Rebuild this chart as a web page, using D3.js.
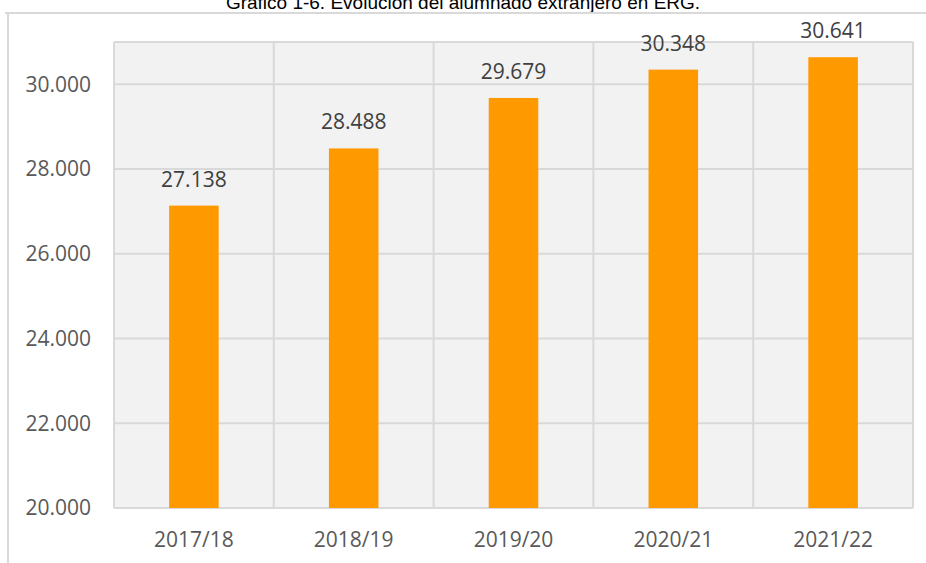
<!DOCTYPE html>
<html>
<head>
<meta charset="utf-8">
<script src="https://cdn.jsdelivr.net/npm/d3@7"></script>
<style>
  body { margin: 0; background: #fff; }
  svg { display: block; }
</style>
</head>
<body>
<script>
// data
var years = ["2017/18", "2018/19", "2019/20", "2020/21", "2021/22"];
var alumnos = [27138, 28488, 29679, 30348, 30641];
var yTicks = [20000, 22000, 24000, 26000, 28000, 30000];

var W = 926, H = 563;
var margin = { top: 42, right: 13, bottom: 55, left: 114 },
    width = W - margin.left - margin.right,
    height = H - margin.top - margin.bottom;

var es = d3.formatLocale({ decimal: ",", thousands: ".", grouping: [3], currency: ["", " €"] });
var fmt = es.format(",d");

var svg = d3.select("body").append("svg")
  .attr("width", W)
  .attr("height", H);

// title (sits at the very top, partly cut like the original)
svg.append("text")
  .attr("x", 463)
  .attr("y", 9)
  .attr("text-anchor", "middle")
  .style("font-family", "Liberation Sans, Arial, sans-serif")
  .style("font-size", "19px")
  .style("fill", "#000")
  .text("Gráfico 1-6. Evolución del alumnado extranjero en ERG.");

// outer frame
svg.append("line").attr("x1", 5).attr("x2", W).attr("y1", 13).attr("y2", 13)
  .style("stroke", "#d9d9d9").style("stroke-width", 2);
svg.append("line").attr("x1", 8).attr("x2", 8).attr("y1", 13).attr("y2", H)
  .style("stroke", "#d9d9d9").style("stroke-width", 2);

var g = svg.append("g")
  .attr("transform", "translate(" + margin.left + "," + margin.top + ")");

var x = d3.scaleBand().domain(years).range([0, width]).paddingInner(0).paddingOuter(0);
var y = d3.scaleLinear().domain([20000, 31000]).range([height, 0]);

// plot background
g.append("rect")
  .attr("width", width)
  .attr("height", height)
  .style("fill", "#f2f2f2");

// horizontal grid
g.selectAll(".hgrid")
  .data(yTicks.concat([31000]))
  .enter().append("line")
  .attr("x1", 0).attr("x2", width)
  .attr("y1", function (d) { return y(d); })
  .attr("y2", function (d) { return y(d); })
  .style("stroke", "#d9d9d9").style("stroke-width", 2);

// vertical grid
var vx = years.map(function (d) { return x(d); }).concat([width]);
g.selectAll(".vgrid")
  .data(vx)
  .enter().append("line")
  .attr("x1", function (d) { return d; }).attr("x2", function (d) { return d; })
  .attr("y1", 0).attr("y2", height)
  .style("stroke", "#d9d9d9").style("stroke-width", 2);

// bars
var bw = x.bandwidth() * 0.31;
g.selectAll(".bar")
  .data(alumnos)
  .enter().append("rect")
  .attr("x", function (d, i) { return x(years[i]) + x.bandwidth() / 2 - bw / 2; })
  .attr("y", function (d) { return y(d); })
  .attr("width", bw)
  .attr("height", function (d) { return height - y(d); })
  .style("fill", "#ff9900");

// value labels
g.selectAll(".lbl")
  .data(alumnos)
  .enter().append("text")
  .attr("x", function (d, i) { return x(years[i]) + x.bandwidth() / 2; })
  .attr("y", function (d) { return y(d) - 19; })
  .attr("text-anchor", "middle")
  .style("font-family", "Open Sans, sans-serif")
  .style("font-size", "21px")
  .style("fill", "#404040")
  .text(function (d) { return fmt(d); });

// axes
var yAxis = g.append("g")
  .call(d3.axisLeft(y).tickValues(yTicks).tickFormat(fmt).tickSize(0).tickPadding(23));
yAxis.select(".domain").remove();
yAxis.selectAll("text")
  .style("font-family", "Open Sans, sans-serif")
  .style("font-size", "21px")
  .style("fill", "#595959");

var xAxis = g.append("g")
  .attr("transform", "translate(0," + height + ")")
  .call(d3.axisBottom(x).tickSize(0).tickPadding(24));
xAxis.select(".domain").remove();
xAxis.selectAll("text")
  .style("font-family", "Open Sans, sans-serif")
  .style("font-size", "21px")
  .style("fill", "#595959");
</script>
</body>
</html>
